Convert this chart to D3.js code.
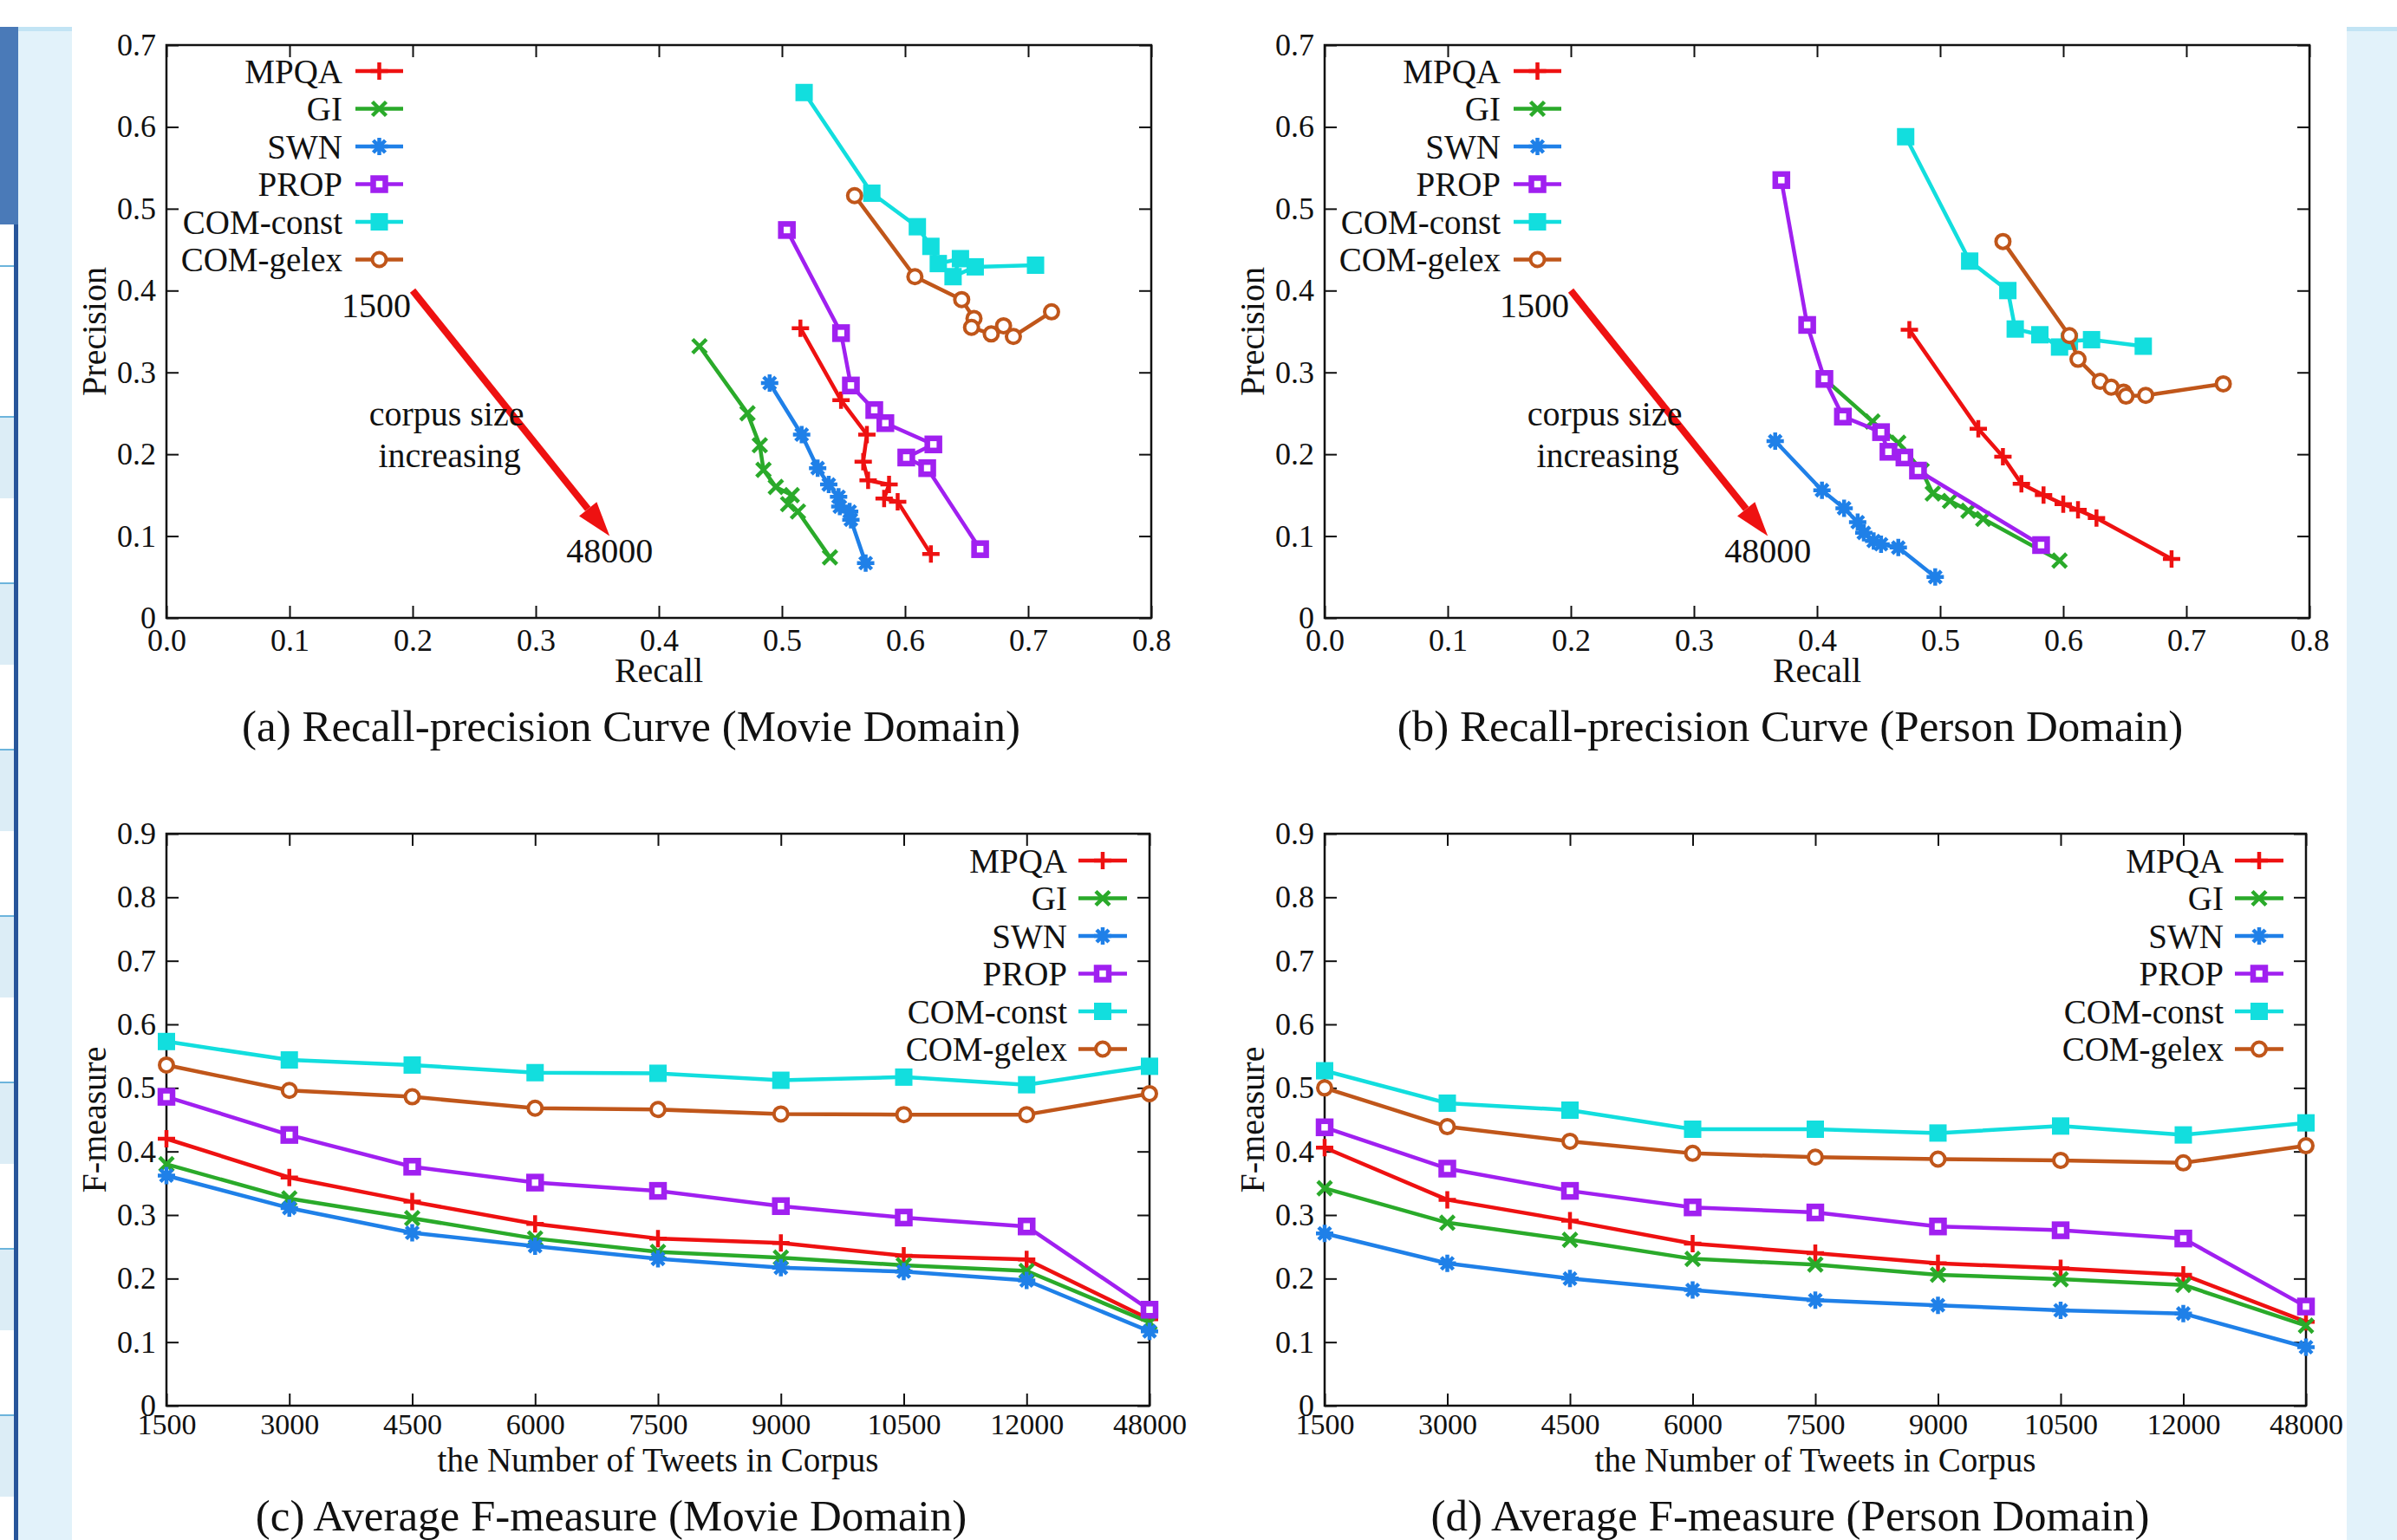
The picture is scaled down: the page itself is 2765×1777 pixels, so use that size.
<!DOCTYPE html>
<html>
<head>
<meta charset="utf-8">
<script src="https://d3js.org/d3.v7.min.js"></script>
<style>
  body { margin: 0; background: #fff; }
  svg { display: block; }
  text { font-family: "Liberation Serif", "Times New Roman", serif; fill: #111; }
</style>
</head>
<body>
<div id="fig"></div>
<script>

// ---- data (series order: MPQA, GI, SWN, PROP, COM-const, COM-gelex) ----
var seriesNames = ['MPQA', 'GI', 'SWN', 'PROP', 'COM-const', 'COM-gelex']
var corpusSizes = ['1500', '3000', '4500', '6000', '7500', '9000', '10500', '12000', '48000']

var recallTicks = [0, 0.1, 0.2, 0.3, 0.4, 0.5, 0.6, 0.7, 0.8]
var precisionTicks = [0, 0.1, 0.2, 0.3, 0.4, 0.5, 0.6, 0.7]
var fTicks = [0, 0.1, 0.2, 0.3, 0.4, 0.5, 0.6, 0.7, 0.8, 0.9]

var movieRecall = [
  [0.515, 0.548, 0.569, 0.566, 0.570, 0.587, 0.583, 0.594, 0.621],
  [0.433, 0.472, 0.482, 0.485, 0.495, 0.508, 0.505, 0.513, 0.539],
  [0.490, 0.516, 0.529, 0.538, 0.546, 0.547, 0.555, 0.556, 0.568],
  [0.504, 0.548, 0.556, 0.575, 0.584, 0.623, 0.601, 0.618, 0.661],
  [0.518, 0.573, 0.610, 0.621, 0.627, 0.645, 0.639, 0.657, 0.706],
  [0.559, 0.608, 0.646, 0.656, 0.654, 0.670, 0.680, 0.688, 0.719]
]
var moviePrecision = [
  [0.354, 0.266, 0.224, 0.191, 0.168, 0.163, 0.146, 0.142, 0.078],
  [0.332, 0.250, 0.211, 0.181, 0.160, 0.150, 0.139, 0.130, 0.074],
  [0.287, 0.224, 0.183, 0.163, 0.148, 0.136, 0.130, 0.120, 0.067],
  [0.474, 0.348, 0.284, 0.254, 0.238, 0.212, 0.196, 0.183, 0.084],
  [0.642, 0.519, 0.478, 0.454, 0.433, 0.439, 0.417, 0.429, 0.431],
  [0.516, 0.417, 0.389, 0.366, 0.355, 0.347, 0.357, 0.344, 0.374]
]
var personRecall = [
  [0.475, 0.531, 0.551, 0.566, 0.584, 0.600, 0.612, 0.627, 0.688],
  [0.406, 0.445, 0.466, 0.485, 0.494, 0.508, 0.523, 0.535, 0.597],
  [0.366, 0.404, 0.422, 0.433, 0.438, 0.446, 0.452, 0.466, 0.496],
  [0.371, 0.392, 0.406, 0.421, 0.452, 0.458, 0.471, 0.482, 0.582],
  [0.472, 0.524, 0.555, 0.561, 0.581, 0.597, 0.605, 0.623, 0.665],
  [0.551, 0.605, 0.612, 0.630, 0.639, 0.649, 0.651, 0.667, 0.730]
]
var personPrecision = [
  [0.352, 0.231, 0.197, 0.164, 0.150, 0.139, 0.132, 0.122, 0.072],
  [0.292, 0.240, 0.214, 0.180, 0.152, 0.143, 0.131, 0.121, 0.070],
  [0.216, 0.156, 0.134, 0.117, 0.104, 0.094, 0.090, 0.086, 0.050],
  [0.535, 0.358, 0.292, 0.246, 0.227, 0.203, 0.196, 0.180, 0.089],
  [0.588, 0.436, 0.400, 0.353, 0.346, 0.331, 0.338, 0.340, 0.332],
  [0.460, 0.345, 0.316, 0.289, 0.282, 0.276, 0.271, 0.272, 0.286]
]
var movieF = [
  [0.420, 0.359, 0.321, 0.286, 0.263, 0.256, 0.236, 0.230, 0.136],
  [0.380, 0.326, 0.295, 0.263, 0.242, 0.233, 0.221, 0.212, 0.131],
  [0.362, 0.311, 0.272, 0.251, 0.231, 0.217, 0.211, 0.197, 0.117],
  [0.486, 0.426, 0.376, 0.351, 0.338, 0.314, 0.296, 0.282, 0.151],
  [0.573, 0.544, 0.536, 0.524, 0.523, 0.512, 0.517, 0.505, 0.534],
  [0.536, 0.496, 0.486, 0.468, 0.466, 0.459, 0.458, 0.458, 0.491]
]
var personF = [
  [0.406, 0.324, 0.291, 0.255, 0.240, 0.224, 0.216, 0.206, 0.132],
  [0.342, 0.288, 0.261, 0.231, 0.222, 0.206, 0.199, 0.190, 0.126],
  [0.271, 0.224, 0.200, 0.182, 0.166, 0.158, 0.150, 0.145, 0.092],
  [0.438, 0.373, 0.338, 0.312, 0.304, 0.282, 0.276, 0.263, 0.156],
  [0.527, 0.476, 0.465, 0.435, 0.435, 0.429, 0.440, 0.426, 0.445],
  [0.500, 0.439, 0.416, 0.397, 0.391, 0.388, 0.386, 0.382, 0.409]
]

// corpus size arrow annotation (in recall/precision units)
var arrowFrom = [0.2, 0.4]
var arrowTo = [0.36, 0.1]

var colors = ['#ee1111', '#2aaa2a', '#1f80e8', '#a020f0', '#12dede', '#c0561a']

// ---- page ----
var svg = d3.select('#fig').append('svg')
    .attr('width', 2765)
    .attr('height', 1777)

// web page bits around the figure
svg.append('rect').attr('x', 21).attr('y', 31).attr('width', 62).attr('height', 1746).attr('fill', '#e2f2fa')
svg.append('rect').attr('x', 21).attr('y', 31).attr('width', 62).attr('height', 5).attr('fill', '#c2e4f4')
svg.append('rect').attr('x', 0).attr('y', 31).attr('width', 21).attr('height', 228).attr('fill', '#4a7ab8')
d3.range(481, 1777, 192).forEach(function(y0) {
  svg.append('rect').attr('x', 0).attr('y', y0).attr('width', 17).attr('height', 94).attr('fill', '#dcedf6')
  svg.append('line').attr('x1', 0).attr('x2', 17).attr('y1', y0).attr('y2', y0)
    .attr('stroke', '#6cb4dc').attr('stroke-width', 2)
})
svg.append('line').attr('x1', 0).attr('x2', 17).attr('y1', 307).attr('y2', 307)
  .attr('stroke', '#6cb4dc').attr('stroke-width', 2)
svg.append('rect').attr('x', 16).attr('y', 259).attr('width', 5).attr('height', 1518).attr('fill', '#27559a')
svg.append('rect').attr('x', 2707).attr('y', 31).attr('width', 58).attr('height', 1746).attr('fill', '#e2f2fa')
svg.append('rect').attr('x', 2707).attr('y', 31).attr('width', 58).attr('height', 5).attr('fill', '#c2e4f4')

// markers: plus, cross, star, open square, filled square, open circle
function addMarker(sel, i, color) {
  if (i === 0) {
    sel.append('path').attr('d', 'M-10,0H10M0,-10V10').attr('stroke', color).attr('stroke-width', 4.5)
  } else if (i === 1) {
    sel.append('path').attr('d', 'M-8,-8L8,8M-8,8L8,-8').attr('stroke', color).attr('stroke-width', 4.5)
  } else if (i === 2) {
    sel.append('path').attr('d', 'M-10,0H10M0,-10V10M-7,-7L7,7M-7,7L7,-7').attr('stroke', color).attr('stroke-width', 4.5)
  } else if (i === 3) {
    sel.append('rect').attr('x', -7).attr('y', -7).attr('width', 14).attr('height', 14)
      .attr('fill', '#fff').attr('stroke', color).attr('stroke-width', 6.5)
  } else if (i === 4) {
    sel.append('rect').attr('x', -10).attr('y', -10).attr('width', 20).attr('height', 20).attr('fill', color)
  } else {
    sel.append('circle').attr('r', 8).attr('fill', '#fff').attr('stroke', color).attr('stroke-width', 4)
  }
}

function drawFrame(g, x, y, w, h, xTicks, yTicks, xFmt, yFmt, xFont, xPad) {
  g.append('g')
    .attr('class', 'xaxis')
    .attr('transform', `translate(0, ${h})`)
    .call(d3.axisBottom(x).tickValues(xTicks).tickFormat(xFmt).tickSizeInner(-14).tickSizeOuter(0).tickPadding(xPad))
  g.append('g')
    .call(d3.axisTop(x).tickValues(xTicks).tickFormat('').tickSizeInner(-14).tickSizeOuter(0))
  g.append('g')
    .call(d3.axisLeft(y).tickValues(yTicks).tickFormat(yFmt).tickSizeInner(-14).tickSizeOuter(0).tickPadding(12))
  g.append('g')
    .attr('transform', `translate(${w}, 0)`)
    .call(d3.axisRight(y).tickValues(yTicks).tickFormat('').tickSizeInner(-14).tickSizeOuter(0))

  g.selectAll('.domain').remove()
  g.selectAll('.tick line').attr('stroke', '#111').attr('stroke-width', 2)
  g.selectAll('.tick text').style('font-size', '36px')
  g.selectAll('.xaxis .tick text').style('font-size', xFont)

  g.append('rect')
    .attr('width', w).attr('height', h)
    .attr('fill', 'none').attr('stroke', '#111').attr('stroke-width', 2.5)
}

function drawLegend(g, textRight, lineX1, lineX2, rowTop) {
  seriesNames.forEach(function(name, i) {
    var yy = rowTop + i * 43.5
    g.append('text')
      .attr('x', textRight).attr('y', yy).attr('dy', '0.35em')
      .attr('text-anchor', 'end')
      .style('font-size', '39px')
      .text(name)
    g.append('line')
      .attr('x1', lineX1).attr('x2', lineX2).attr('y1', yy).attr('y2', yy)
      .attr('stroke', colors[i]).attr('stroke-width', 4.5)
    addMarker(g.append('g').attr('transform', `translate(${(lineX1 + lineX2) / 2}, ${yy})`), i, colors[i])
  })
}

function fmt1(d) { return d === 0 ? '0' : d.toFixed(1) }

// ---- recall-precision panels ----
function rpPanel(left, right, recall, precision, caption, captionX) {
  var top = 52, bottom = 713
  var w = right - left, h = bottom - top
  var g = svg.append('g').attr('transform', `translate(${left}, ${top})`)

  var x = d3.scaleLinear().domain([0, 0.8]).range([0, w])
  var y = d3.scaleLinear().domain([0, 0.7]).range([h, 0])

  drawFrame(g, x, y, w, h, recallTicks, precisionTicks, function(d) { return d.toFixed(1) }, fmt1, '36px', 12)

  // arrow showing corpus growth
  var x0 = x(arrowFrom[0]), y0 = y(arrowFrom[1]), x1 = x(arrowTo[0]), y1 = y(arrowTo[1])
  var ang = Math.atan2(y1 - y0, x1 - x0)
  var hl = 40, hw = 13
  var bx = x1 - hl * Math.cos(ang), by = y1 - hl * Math.sin(ang)
  g.append('line')
    .attr('x1', x0).attr('y1', y0).attr('x2', bx).attr('y2', by)
    .attr('stroke', '#ee1111').attr('stroke-width', 8)
  g.append('path')
    .attr('d', `M${x1},${y1}L${bx - hw * Math.sin(ang)},${by + hw * Math.cos(ang)}L${bx + hw * Math.sin(ang)},${by - hw * Math.cos(ang)}Z`)
    .attr('fill', '#ee1111')

  g.append('text').attr('x', x0 - 2).attr('y', y(0.382)).attr('dy', '0.35em')
    .attr('text-anchor', 'end').style('font-size', '40px').text(corpusSizes[0])
  g.append('text').attr('x', x1).attr('y', y(0.083)).attr('dy', '0.35em')
    .attr('text-anchor', 'middle').style('font-size', '40px').text(corpusSizes[corpusSizes.length - 1])
  g.append('text').attr('x', x(0.2275)).attr('y', y(0.25)).attr('dy', '0.35em')
    .attr('text-anchor', 'middle').style('font-size', '40px').text('corpus size')
  g.append('text').attr('x', x(0.23)).attr('y', y(0.199)).attr('dy', '0.35em')
    .attr('text-anchor', 'middle').style('font-size', '40px').text('increasing')

  // series
  var line = d3.line().x(function(d) { return x(d[0]) }).y(function(d) { return y(d[1]) })
  seriesNames.forEach(function(name, i) {
    var pts = d3.zip(recall[i], precision[i])
    g.append('path').datum(pts)
      .attr('d', line).attr('fill', 'none')
      .attr('stroke', colors[i]).attr('stroke-width', 4.5).attr('stroke-linejoin', 'round')
    pts.forEach(function(p) {
      addMarker(g.append('g').attr('transform', `translate(${x(p[0])}, ${y(p[1])})`), i, colors[i])
    })
  })

  drawLegend(g, 203, 218, 273, 30)

  g.append('text')
    .attr('transform', `translate(-70, ${h / 2}) rotate(-90)`)
    .attr('text-anchor', 'middle').style('font-size', '40px')
    .text('Precision')
  g.append('text')
    .attr('x', x(0.4)).attr('y', h + 74)
    .attr('text-anchor', 'middle').style('font-size', '40px')
    .text('Recall')
  svg.append('text')
    .attr('x', captionX).attr('y', 855)
    .attr('text-anchor', 'middle').style('font-size', '51px')
    .text(caption)
}

// ---- F-measure panels ----
function fPanel(left, right, fvals, caption, captionX) {
  var top = 962, bottom = 1622
  var w = right - left, h = bottom - top
  var g = svg.append('g').attr('transform', `translate(${left}, ${top})`)

  var x = d3.scalePoint().domain(corpusSizes).range([0, w])
  var y = d3.scaleLinear().domain([0, 0.9]).range([h, 0])

  drawFrame(g, x, y, w, h, corpusSizes, fTicks, function(d) { return d }, fmt1, '34px', 9)

  var line = d3.line().x(function(d, j) { return x(corpusSizes[j]) }).y(function(d) { return y(d) })
  seriesNames.forEach(function(name, i) {
    g.append('path').datum(fvals[i])
      .attr('d', line).attr('fill', 'none')
      .attr('stroke', colors[i]).attr('stroke-width', 4.5).attr('stroke-linejoin', 'round')
    fvals[i].forEach(function(v, j) {
      addMarker(g.append('g').attr('transform', `translate(${x(corpusSizes[j])}, ${y(v)})`), i, colors[i])
    })
  })

  drawLegend(g, w - 95, w - 82, w - 26, 31)

  g.append('text')
    .attr('transform', `translate(-70, ${h / 2}) rotate(-90)`)
    .attr('text-anchor', 'middle').style('font-size', '40px')
    .text('F-measure')
  g.append('text')
    .attr('x', w / 2).attr('y', h + 76)
    .attr('text-anchor', 'middle').style('font-size', '39px')
    .text('the Number of Tweets in Corpus')
  svg.append('text')
    .attr('x', captionX).attr('y', 1766)
    .attr('text-anchor', 'middle').style('font-size', '51px')
    .text(caption)
}

rpPanel(192, 1328, movieRecall, moviePrecision, '(a) Recall-precision Curve (Movie Domain)', 728)
rpPanel(1528, 2664, personRecall, personPrecision, '(b) Recall-precision Curve (Person Domain)', 2065)
fPanel(192, 1326, movieF, '(c) Average F-measure (Movie Domain)', 705)
fPanel(1528, 2660, personF, '(d) Average F-measure (Person Domain)', 2065)

</script>
</body>
</html>
